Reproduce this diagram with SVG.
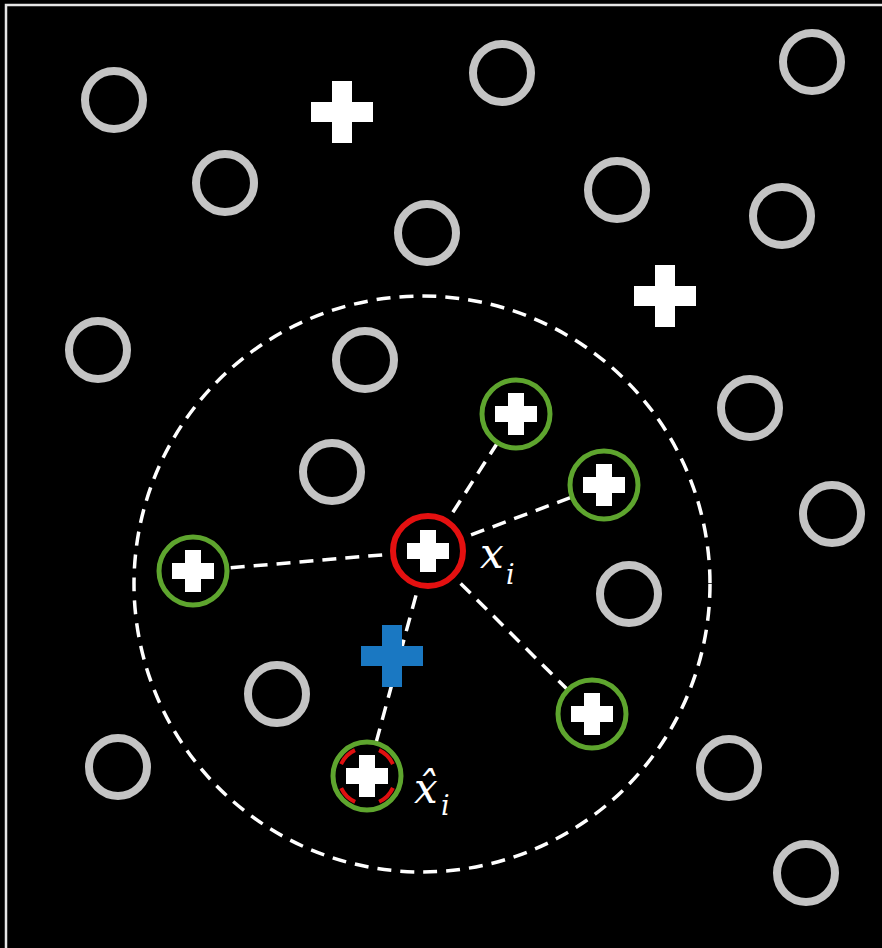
<svg xmlns="http://www.w3.org/2000/svg" width="882" height="948" viewBox="0 0 882 948">
<defs>
<style>
.g{fill:none;stroke:#c4c4c4;stroke-width:8}
.gr{fill:#000;stroke:#5ea52e;stroke-width:5}
.wc{fill:#fff}
.ln{stroke:#fff;stroke-width:3.5;stroke-dasharray:14 9;fill:none}
.lbl{font-family:"DejaVu Serif","Liberation Serif",serif;font-style:italic;fill:#fff}
</style>
<path id="pc" d="M-8,-21H8V-8H21V8H8V21H-8V8H-21V-8H-8Z"/>
<path id="bc" d="M-10,-31H10V-10H31V10H10V31H-10V10H-31V-10H-10Z"/>
</defs>
<rect width="882" height="948" fill="#000"/>
<path d="M6,948V5H882" fill="none" stroke="#e6e6e6" stroke-width="2.5"/>
<g id="others">
<circle class="g" cx="114" cy="100" r="29"/>
<circle class="g" cx="502" cy="73" r="29"/>
<circle class="g" cx="812" cy="62" r="29"/>
<circle class="g" cx="225" cy="183" r="29"/>
<circle class="g" cx="617" cy="190" r="29"/>
<circle class="g" cx="427" cy="233" r="29"/>
<circle class="g" cx="782" cy="216" r="29"/>
<circle class="g" cx="98" cy="350" r="29"/>
<circle class="g" cx="365" cy="360" r="29"/>
<circle class="g" cx="750" cy="408" r="29"/>
<circle class="g" cx="332" cy="472" r="29"/>
<circle class="g" cx="832" cy="514" r="29"/>
<circle class="g" cx="629" cy="594" r="29"/>
<circle class="g" cx="277" cy="694" r="29"/>
<circle class="g" cx="118" cy="767" r="29"/>
<circle class="g" cx="729" cy="768" r="29"/>
<circle class="g" cx="806" cy="873" r="29"/>
<use href="#bc" x="342" y="112" fill="#fff"/>
<use href="#bc" x="665" y="296" fill="#fff"/>
</g>
<circle id="neighborhood" cx="422" cy="584" r="288" fill="none" stroke="#fff" stroke-width="3.5" stroke-dasharray="14 9"/>
<g id="connectors">
<line class="ln" x1="428" y1="551" x2="516" y2="414"/>
<line class="ln" x1="428" y1="551" x2="604" y2="485"/>
<line class="ln" x1="428" y1="551" x2="193" y2="571"/>
<line class="ln" x1="428" y1="551" x2="592" y2="714"/>
<line class="ln" x1="428" y1="551" x2="367" y2="776"/>
</g>
<g id="n1"><circle class="gr" cx="516" cy="414" r="34"/><use href="#pc" x="516" y="414" class="wc"/></g>
<g id="n2"><circle class="gr" cx="604" cy="485" r="34"/><use href="#pc" x="604" y="485" class="wc"/></g>
<g id="n3"><circle class="gr" cx="193" cy="571" r="34"/><use href="#pc" x="193" y="571" class="wc"/></g>
<g id="n4"><circle class="gr" cx="592" cy="714" r="34"/><use href="#pc" x="592" y="714" class="wc"/></g>
<g id="xhat"><circle class="gr" cx="367" cy="776" r="34"/><circle cx="367" cy="776" r="28.5" fill="none" stroke="#e01010" stroke-width="4" stroke-dasharray="20 24.77" transform="rotate(24.5 367 776)"/><use href="#pc" x="367" y="776" class="wc"/></g>
<g id="xi"><circle cx="428" cy="551" r="35" fill="#000" stroke="#e41010" stroke-width="6"/><use href="#pc" x="428" y="551" class="wc"/></g>
<g id="synthetic"><use href="#bc" x="392" y="656" fill="#1a78c2"/></g>
<g id="labels">
<text class="lbl" x="480" y="568" font-size="42">x</text><text class="lbl" x="506" y="584" font-size="27">i</text>
<text class="lbl" x="414" y="803" font-size="42">x̂</text><text class="lbl" x="441" y="815" font-size="27">i</text>
</g>
</svg>
